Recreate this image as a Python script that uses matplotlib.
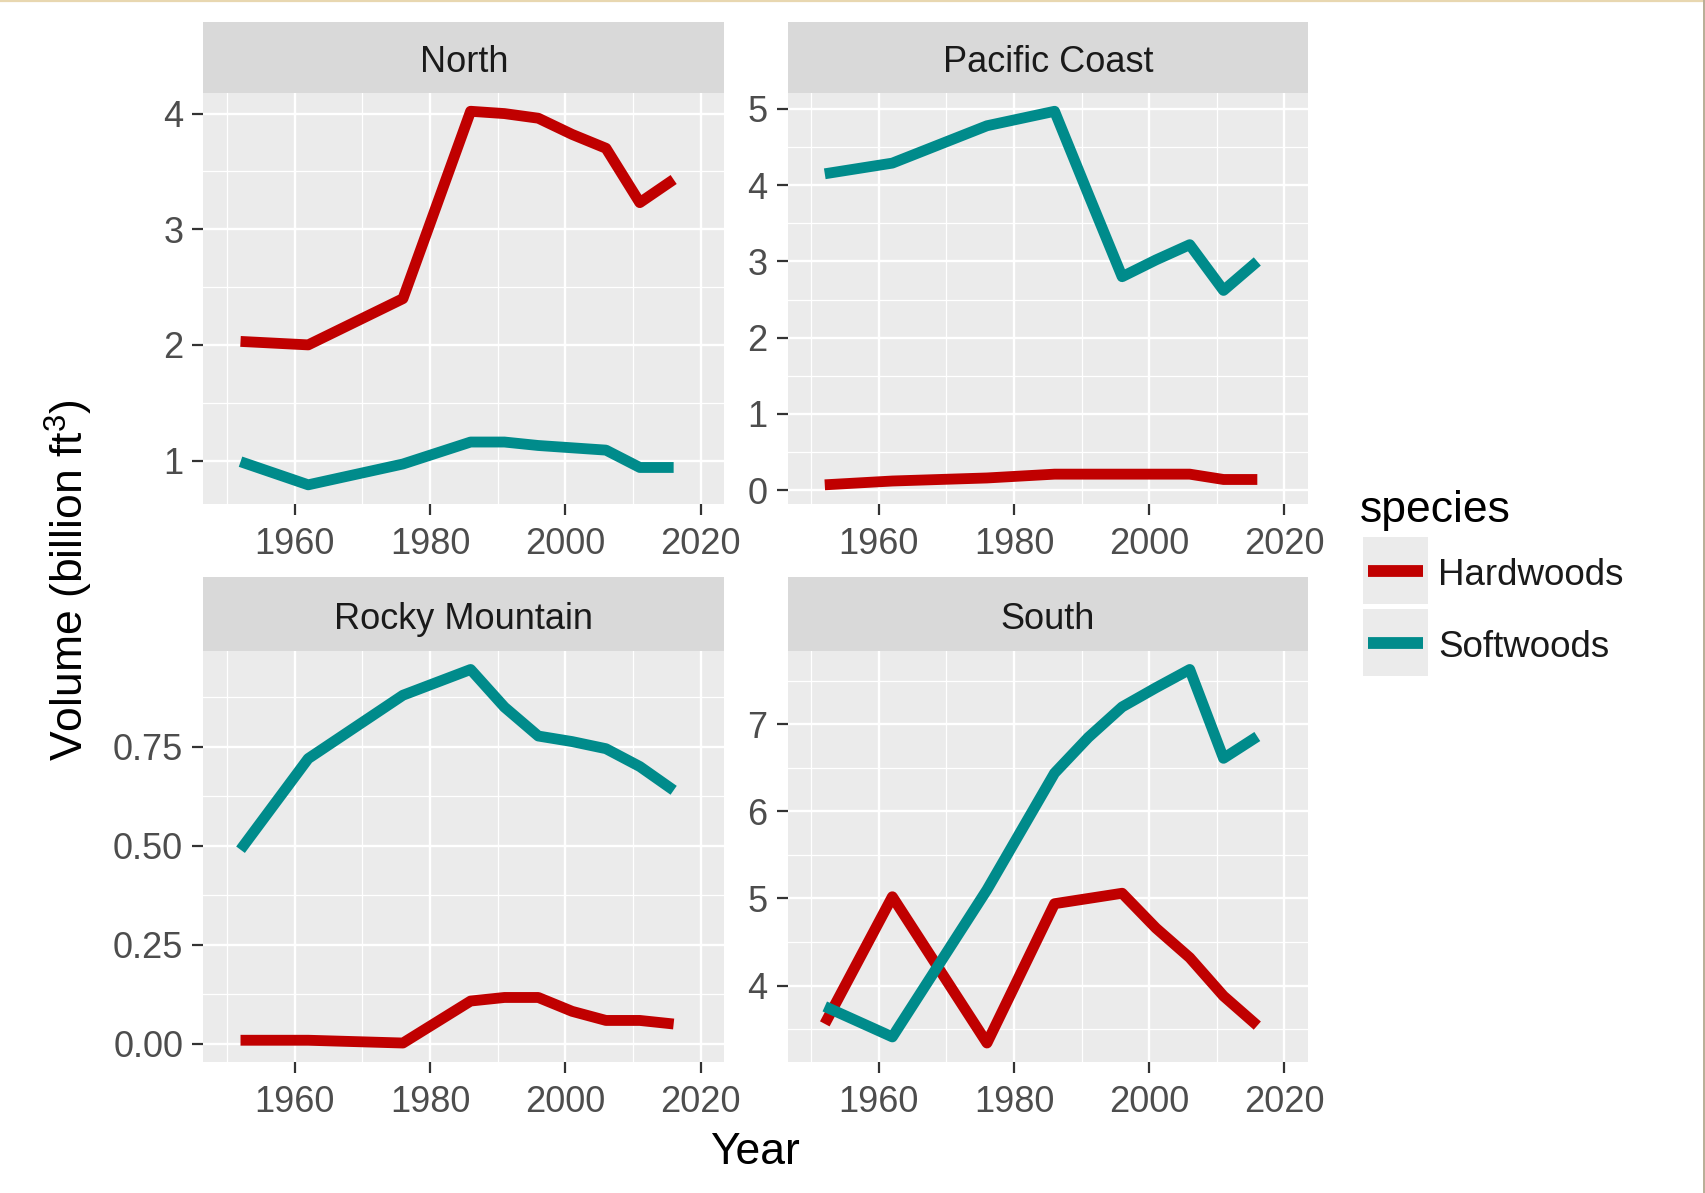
import matplotlib
matplotlib.use("Agg")
import matplotlib.pyplot as plt
from matplotlib.lines import Line2D
from matplotlib.patches import Rectangle
from matplotlib.ticker import MultipleLocator, FormatStrFormatter

plt.rcParams["font.family"] = ["Liberation Sans", "DejaVu Sans"]
plt.rcParams["mathtext.fontset"] = "custom"
plt.rcParams["mathtext.rm"] = "Liberation Sans"
plt.rcParams["mathtext.it"] = "Liberation Sans:italic"

# removals by region, billion cubic feet
years = [1952, 1962, 1976, 1986, 1991, 1996, 2001, 2006, 2011, 2016]
regions = ["North", "Pacific Coast", "Rocky Mountain", "South"]
species = ["Hardwoods", "Softwoods"]

north_hard = [2.03, 2.00, 2.40, 4.02, 4.00, 3.96, 3.82, 3.70, 3.23, 3.43]
north_soft = [0.99, 0.79, 0.97, 1.16, 1.16, 1.13, 1.11, 1.09, 0.94, 0.94]
pacific_hard = [0.07, 0.12, 0.16, 0.21, 0.21, 0.21, 0.21, 0.21, 0.14, 0.14]
pacific_soft = [4.15, 4.29, 4.78, 4.97, 3.88, 2.80, 3.02, 3.22, 2.62, 3.00]
rocky_hard = [0.009, 0.009, 0.002, 0.108, 0.117, 0.117, 0.082, 0.059, 0.059, 0.050]
rocky_soft = [0.49, 0.72, 0.88, 0.945, 0.85, 0.777, 0.763, 0.745, 0.70, 0.64]
south_hard = [3.56, 5.02, 3.34, 4.94, 5.00, 5.06, 4.66, 4.32, 3.88, 3.54]
south_soft = [3.76, 3.41, 5.10, 6.44, 6.85, 7.20, 7.42, 7.63, 6.61, 6.86]

values = {
    "North": (north_hard, north_soft),
    "Pacific Coast": (pacific_hard, pacific_soft),
    "Rocky Mountain": (rocky_hard, rocky_soft),
    "South": (south_hard, south_soft),
}
y_step = {"North": 1, "Pacific Coast": 1, "Rocky Mountain": 0.25, "South": 1}
y_fmt = {"North": "%d", "Pacific Coast": "%d", "Rocky Mountain": "%.2f", "South": "%d"}

colors = {"Hardwoods": "#C00000", "Softwoods": "#008B8B"}
x_limits = (1950, 2020)

W, H = 1705, 1193
fig = plt.figure(figsize=(W / 100, H / 100), dpi=100)


def fx(px):
    return px / W


def fy(py):
    return 1 - py / H


# panel boxes in pixels: left, right, top (below strip), bottom, strip top
boxes = {
    "North": (203.3, 724.4, 92.6, 503.5, 21.6),
    "Pacific Coast": (787.6, 1308.0, 92.6, 503.5, 21.6),
    "Rocky Mountain": (203.3, 724.4, 650.8, 1061.7, 577.2),
    "South": (787.6, 1308.0, 650.8, 1061.7, 577.2),
}

for region in regions:
    l, r, t, b, st = boxes[region]
    ax = fig.add_axes([fx(l), fy(b), fx(r - l), (b - t) / H])
    ax.set_facecolor("#EBEBEB")
    hard, soft = values[region]
    for name, ys in zip(species, (hard, soft)):
        ax.plot(years, ys, color=colors[name], lw=7.8,
                solid_capstyle="butt", solid_joinstyle="round")

    pad = 0.05 * (x_limits[1] - x_limits[0])
    ax.set_xlim(x_limits[0] - pad, x_limits[1] + pad)
    ax.margins(y=0.05)
    ax.xaxis.set_major_locator(MultipleLocator(20))
    ax.xaxis.set_minor_locator(MultipleLocator(10))
    ax.yaxis.set_major_locator(MultipleLocator(y_step[region]))
    ax.yaxis.set_minor_locator(MultipleLocator(y_step[region] / 2))
    ax.yaxis.set_major_formatter(FormatStrFormatter(y_fmt[region]))

    ax.set_axisbelow(True)
    ax.grid(which="major", color="white", lw=1.7)
    ax.grid(which="minor", color="white", lw=0.9)
    for s in ax.spines.values():
        s.set_visible(False)
    ax.tick_params(which="major", length=8, width=1.6, color="#333333",
                   labelsize=26, labelcolor="#4D4D4D", pad=6.5)
    ax.tick_params(axis="x", which="major", pad=9)
    ax.tick_params(which="minor", length=0)

    # facet strip
    sax = fig.add_axes([fx(l), fy(t), fx(r - l), (t - st) / H])
    sax.set_facecolor("#D9D9D9")
    sax.set_xticks([])
    sax.set_yticks([])
    for s in sax.spines.values():
        s.set_visible(False)
    sax.text(0.5, 0.42, region, ha="center", va="center",
             fontsize=26, color="#1A1A1A", transform=sax.transAxes)

# axis titles
fig.text(fx(755), fy(1153), "Year", ha="center", va="center", fontsize=32)
fig.text(fx(69), fy(580), r"Volume (billion ft$^{3}$)", ha="center", va="center",
         rotation=90, fontsize=32)

# legend
fig.text(fx(1360), fy(522), "species", ha="left", va="baseline", fontsize=32)
key_tops = [537.3, 609.3]
for name, kt in zip(species, key_tops):
    fig.add_artist(Rectangle((fx(1362.7), fy(kt + 67)), fx(65.6), 67 / H,
                             transform=fig.transFigure, facecolor="#EBEBEB",
                             edgecolor="none"))
    yc = kt + 34
    fig.add_artist(Line2D([fx(1368), fx(1423)], [fy(yc), fy(yc)],
                          transform=fig.transFigure, color=colors[name],
                          lw=8.5, solid_capstyle="butt"))
    fig.text(fx(1438), fy(yc + 4), name, ha="left", va="center",
             fontsize=26.5, color="#1A1A1A")

# thin frame edges of the screenshot
fig.add_artist(Line2D([0, 1], [fy(1), fy(1)], transform=fig.transFigure,
                      color="#E8D7B0", lw=1.6))
fig.add_artist(Line2D([fx(1703.5), fx(1703.5)], [0, 1], transform=fig.transFigure,
                      color="#B8AD96", lw=1.4))

fig.savefig("out.png", dpi=100)
